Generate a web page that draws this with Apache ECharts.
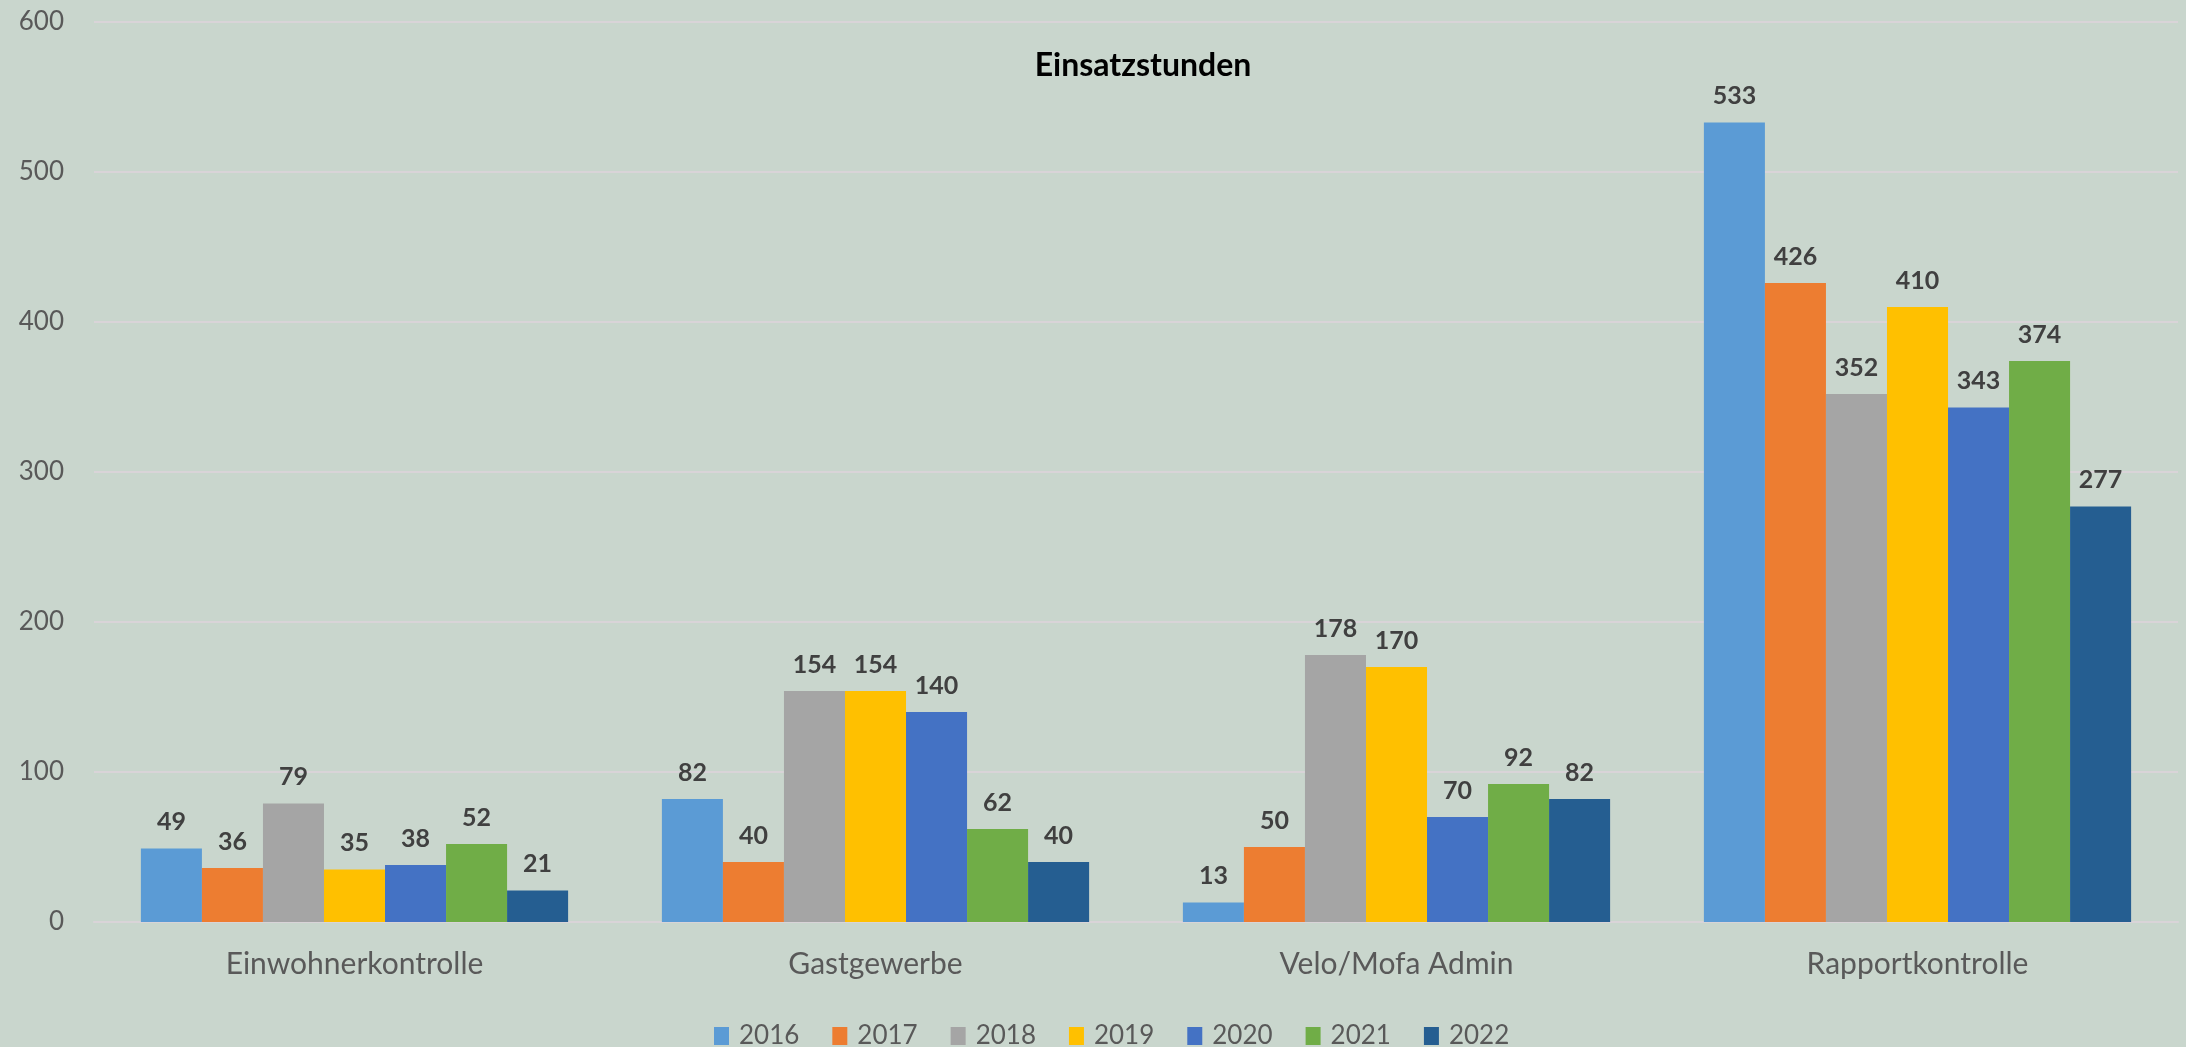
<!DOCTYPE html>
<html>
<head>
<meta charset="utf-8">
<title>Einsatzstunden</title>
<script src="https://cdn.jsdelivr.net/npm/echarts@6/dist/echarts.min.js"></script>
<style>
  html, body { margin: 0; padding: 0; background: #c9d6cd; }
  #chart { width: 2186px; height: 1047px; }
</style>
</head>
<body>
<div id="chart"></div>
<script>
// Kategorien und Werte (Einsatzstunden pro Jahr)
const categories = ['Einwohnerkontrolle', 'Gastgewerbe', 'Velo/Mofa Admin', 'Rapportkontrolle']
const years = ['2016', '2017', '2018', '2019', '2020', '2021', '2022']
const v2016 = [49, 82, 13, 533]
const v2017 = [36, 40, 50, 426]
const v2018 = [79, 154, 178, 352]
const v2019 = [35, 154, 170, 410]
const v2020 = [38, 140, 70, 343]
const v2021 = [52, 62, 92, 374]
const v2022 = [21, 40, 82, 277]

const values = [v2016, v2017, v2018, v2019, v2020, v2021, v2022]
const colors = ['#5b9bd5', '#ed7d31', '#a5a5a5', '#ffc000', '#4472c4', '#70ad47', '#255e91']
const font = 'Lato, "Open Sans", sans-serif'

const chart = echarts.init(document.getElementById('chart'))

const series = years.map((y, i) => ({
  name: y,
  type: 'bar',
  data: values[i],
  barGap: '0%',
  barCategoryGap: '18%',
  itemStyle: { color: colors[i] },
  label: {
    show: true,
    position: 'top',
    distance: 14,
    color: '#404040',
    fontFamily: font,
    fontWeight: 'bold',
    fontSize: 25
  }
}))

chart.setOption({
  backgroundColor: '#c9d6cd',
  animation: false,
  color: colors,
  title: {
    text: 'Einsatzstunden',
    left: 1138,
    textAlign: 'center',
    top: 45,
    textStyle: { fontFamily: font, fontWeight: 'bold', fontSize: 32, color: '#000' }
  },
  legend: {
    data: years,
    top: 1018,
    left: 709,
    icon: 'rect',
    itemWidth: 15,
    itemHeight: 18,
    itemGap: 33,
    textStyle: { fontFamily: font, fontSize: 26, color: '#595959', padding: [0, 0, 0, 5] }
  },
  grid: { left: 94, right: 8, top: 22, bottom: 125 },
  xAxis: {
    type: 'category',
    data: categories,
    axisTick: { show: false },
    axisLine: { lineStyle: { color: '#d9d4d8', width: 2 } },
    axisLabel: { fontFamily: font, fontSize: 30, color: '#595959', margin: 27 }
  },
  yAxis: {
    type: 'value',
    min: 0,
    max: 600,
    interval: 100,
    axisLine: { show: false },
    axisTick: { show: false },
    axisLabel: { fontFamily: font, fontSize: 26, color: '#595959', margin: 30 },
    splitLine: { lineStyle: { color: '#d9d4d8', width: 2 } }
  },
  series: series
})
</script>
</body>
</html>
